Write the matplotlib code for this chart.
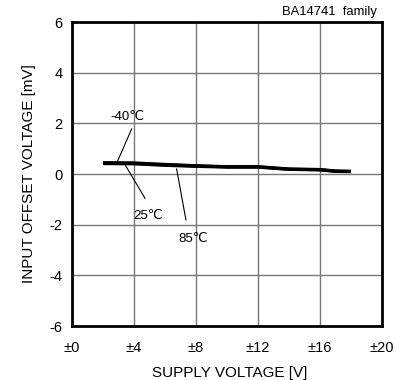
import matplotlib.pyplot as plt

plt.rcParams['font.family'] = ['Liberation Sans', 'DejaVu Sans']
plt.rcParams['axes.unicode_minus'] = False

# supply voltage [V] and input offset voltage [mV] per temperature
supply = [2, 4, 6, 8, 10, 12, 14, 16, 17, 18]
vio_m40 = [0.45, 0.44, 0.38, 0.33, 0.29, 0.29, 0.20, 0.18, 0.12, 0.11]
vio_25 = [0.43, 0.42, 0.36, 0.32, 0.28, 0.28, 0.19, 0.17, 0.11, 0.10]
vio_85 = [0.41, 0.40, 0.34, 0.30, 0.27, 0.27, 0.18, 0.16, 0.10, 0.09]

xticks = [0, 4, 8, 12, 16, 20]
xticklabels = ['±0', '±4', '±8', '±12', '±16', '±20']
yticks = [-6, -4, -2, 0, 2, 4, 6]

fig = plt.figure(figsize=(4.04, 3.8), dpi=100)
ax = fig.add_axes([72/404, 1 - 326/380, 310/404, 304/380])

for v in (vio_m40, vio_25, vio_85):
    ax.plot(supply, v, color='black', lw=2.2, solid_capstyle='butt')

# temperature labels with leader lines
ax.plot([3.85, 2.92], [1.78, 0.48], color='black', lw=0.8)
ax.text(3.6, 2.25, '-40℃', ha='center', va='center', fontsize=9.5)
ax.plot([3.46, 4.71], [0.33, -0.96], color='black', lw=0.8)
ax.text(4.9, -1.65, '25℃', ha='center', va='center', fontsize=9.5)
ax.plot([6.75, 7.35], [0.2, -1.81], color='black', lw=0.8)
ax.text(7.85, -2.57, '85℃', ha='center', va='center', fontsize=9.5)

ax.set_xlim(0, 20)
ax.set_ylim(-6, 6)
ax.set_xticks(xticks)
ax.set_xticklabels(xticklabels)
ax.set_yticks(yticks)
ax.tick_params(length=0, labelsize=10.5)
ax.tick_params(axis='x', pad=11)
ax.tick_params(axis='y', pad=7)
ax.grid(True, color='#777777', lw=1)
for s in ax.spines.values():
    s.set_linewidth(2)

ax.set_xlabel('SUPPLY VOLTAGE [V]', fontsize=11)
ax.set_ylabel('INPUT OFFSET VOLTAGE [mV]', fontsize=11)
ax.xaxis.set_label_coords(0.51, -0.132)
ax.yaxis.set_label_coords(-0.116, 0.5)
fig.text(377/404, 1 - 12/380, 'BA14741  family', ha='right', va='center', fontsize=9.4)

fig.savefig('out.png', dpi=100)
